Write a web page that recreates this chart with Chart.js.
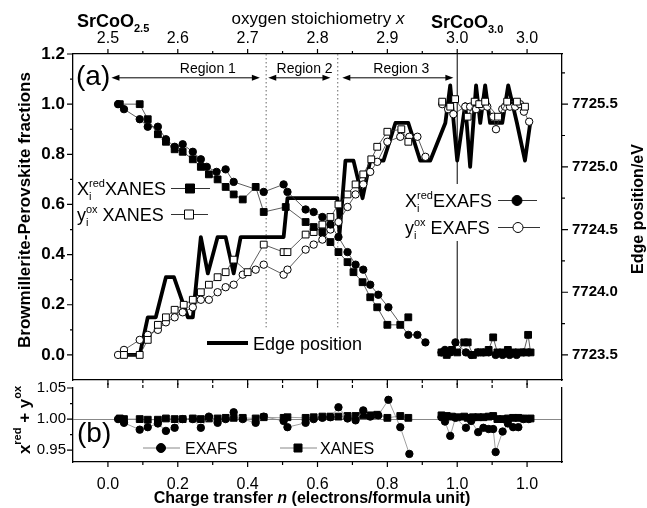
<!DOCTYPE html>
<html>
<head>
<meta charset="utf-8">
<script src="https://cdn.jsdelivr.net/npm/chart.js@4/dist/chart.umd.min.js"></script>
<style>
  body { margin: 0; background: #fff; }
  #wrap { position: relative; width: 647px; height: 508px; }
  canvas { position: absolute; left: 0; }
  #chartA { top: 0; }
  #chartB { top: 372px; }
</style>
</head>
<body>
<div id="wrap">
  <canvas id="chartB" width="647" height="136"></canvas>
  <canvas id="chartA" width="647" height="400"></canvas>
</div>
<script>
const FONT = "'Liberation Sans', Arial, sans-serif";

// ---- axes / tick labels ----
const nMajor = [0, 0.2, 0.4, 0.6, 0.8, 1.0, 1.2];
const nMinor = [0.1, 0.3, 0.5, 0.7, 0.9, 1.1];
const bottomLabels = ["0.0", "0.2", "0.4", "0.6", "0.8", "1.0", "1.0"];
const topLabels = ["2.5", "2.6", "2.7", "2.8", "2.9", "3.0", "3.0"];
const fracTicks = [0, 0.2, 0.4, 0.6, 0.8, 1.0, 1.2];
const fracMinor = [0.1, 0.3, 0.5, 0.7, 0.9, 1.1];
const edgeTicks = [7723.5, 7724.0, 7724.5, 7725.0, 7725.5];
const edgeMinor = [7723.75, 7724.25, 7724.75, 7725.25, 7725.75];
const sumTicks = [0.95, 1.0, 1.05];
const sumMinor = [0.975, 1.025];

// region markers (charge transfer n)
const regionDividers = [0.453, 0.658];
const regionArrows = [[0.01, 0.435], [0.459, 0.637], [0.671, 0.989]];
const regionNames = ["Region 1", "Region 2", "Region 3"];
const regionCenters = [0.286, 0.563, 0.84];

// ---- panel (a) data ----
const xredXanesN = [0.034, 0.091, 0.114, 0.143, 0.166, 0.191, 0.214, 0.243, 0.266, 0.289, 0.314, 0.337, 0.360, 0.386, 0.423, 0.446, 0.509, 0.566, 0.589, 0.614, 0.637, 0.660, 0.686, 0.703, 0.729, 0.751, 0.771, 0.800, 0.837, 0.860, 0.90, 0.955, 0.970, 0.985, 1.000, 1.020, 1.030, 1.045, 1.060, 1.075, 1.090, 1.103, 1.115, 1.130, 1.145, 1.160, 1.175, 1.190, 1.203, 1.210];
const xredXanes = [1.00, 1.00, 0.94, 0.88, 0.85, 0.82, 0.81, 0.78, 0.75, 0.72, 0.70, 0.67, 0.64, 0.62, 0.67, 0.57, 0.59, 0.53, 0.51, 0.49, 0.45, 0.41, 0.37, 0.33, 0.29, 0.23, 0.19, 0.12, 0.12, 0.15, null, 0.01, 0.00, 0.02, 0.01, 0.05, 0.05, 0.00, 0.01, 0.01, 0.02, 0.07, 0.01, 0.01, 0.02, 0.01, 0.01, 0.01, 0.08, 0.01];

const yoxXanesN = [0.046, 0.091, 0.114, 0.143, 0.166, 0.191, 0.217, 0.243, 0.266, 0.289, 0.314, 0.337, 0.360, 0.400, 0.446, 0.503, 0.514, 0.566, 0.589, 0.614, 0.637, 0.660, 0.686, 0.709, 0.731, 0.754, 0.771, 0.800, 0.840, 0.860, 0.90, 0.957, 0.980, 0.994, 1.030, 1.050, 1.063, 1.080, 1.117, 1.143, 1.171, 1.194];
const yoxXanes = [0.00, 0.00, 0.06, 0.12, 0.15, 0.18, 0.20, 0.22, 0.25, 0.28, 0.31, 0.33, 0.38, 0.33, 0.44, 0.41, 0.41, 0.48, 0.49, 0.52, 0.55, 0.60, 0.64, 0.68, 0.72, 0.78, 0.83, 0.89, 0.90, 0.85, null, 1.01, 0.99, 1.02, 0.95, 1.01, 1.00, 1.01, 0.95, 1.01, 1.01, 0.99];

const xredExafsN = [0.029, 0.046, 0.091, 0.114, 0.143, 0.166, 0.191, 0.214, 0.243, 0.266, 0.283, 0.311, 0.337, 0.360, 0.446, 0.503, 0.514, 0.566, 0.589, 0.614, 0.637, 0.660, 0.686, 0.709, 0.731, 0.751, 0.774, 0.803, 0.860, 0.886, 0.909, 0.93, 0.955, 0.965, 0.980, 0.995, 1.025, 1.040, 1.060, 1.075, 1.090, 1.110, 1.130, 1.150, 1.170, 1.190, 1.205];
const xredExafs = [1.00, 0.98, 0.94, 0.91, 0.91, 0.86, 0.83, 0.84, 0.81, 0.78, 0.75, 0.73, 0.74, 0.69, 0.65, 0.68, 0.65, 0.58, 0.57, 0.55, 0.52, 0.47, 0.41, 0.36, 0.34, 0.28, 0.24, 0.19, 0.08, 0.08, 0.05, null, 0.01, 0.02, 0.01, 0.05, 0.01, 0.00, 0.01, 0.01, 0.01, 0.00, 0.00, 0.00, 0.00, 0.01, 0.01];

const yoxExafsN = [0.029, 0.046, 0.091, 0.114, 0.143, 0.166, 0.191, 0.214, 0.243, 0.266, 0.289, 0.314, 0.337, 0.360, 0.386, 0.423, 0.446, 0.503, 0.514, 0.566, 0.589, 0.614, 0.637, 0.660, 0.686, 0.709, 0.731, 0.751, 0.771, 0.800, 0.837, 0.863, 0.886, 0.909, 0.93, 0.957, 0.974, 0.989, 1.023, 1.037, 1.054, 1.071, 1.086, 1.103, 1.111, 1.129, 1.137, 1.151, 1.166, 1.180, 1.191, 1.206];
const yoxExafs = [0.00, 0.02, 0.06, 0.08, 0.10, 0.13, 0.15, 0.17, 0.19, 0.22, 0.22, 0.25, 0.27, 0.28, 0.32, 0.34, 0.36, 0.32, 0.34, 0.42, 0.44, 0.46, 0.50, 0.53, 0.59, 0.64, 0.68, 0.73, 0.77, 0.85, 0.87, 0.87, 0.87, 0.79, null, 1.00, 0.98, 0.96, 0.99, 0.99, 0.98, 0.99, 0.99, 0.95, 0.90, 0.98, 0.99, 0.99, 0.99, 1.00, 0.97, 0.93];

const edgeN = [0.046, 0.091, 0.114, 0.137, 0.166, 0.189, 0.229, 0.243, 0.266, 0.286, 0.314, 0.337, 0.360, 0.380, 0.503, 0.514, 0.657, 0.663, 0.680, 0.703, 0.729, 0.751, 0.789, 0.823, 0.860, 0.894, 0.923, 0.966, 0.980, 1.000, 1.023, 1.037, 1.054, 1.066, 1.080, 1.094, 1.129, 1.146, 1.171, 1.194, 1.209];
const edgeEv = [7723.5, 7723.5, 7723.8, 7723.8, 7724.12, 7724.12, 7723.8, 7723.8, 7724.44, 7724.15, 7724.44, 7724.44, 7724.15, 7724.44, 7724.44, 7724.75, 7724.75, 7724.46, 7725.05, 7725.05, 7724.75, 7725.05, 7725.05, 7725.35, 7725.35, 7725.05, 7725.05, 7725.35, 7725.65, 7725.05, 7725.5, 7725.0, 7725.65, 7725.35, 7725.65, 7725.35, 7725.35, 7725.65, 7725.35, 7725.05, 7725.35];

// ---- panel (b) data ----
const sumExafsN = [0.029, 0.046, 0.091, 0.114, 0.143, 0.166, 0.191, 0.214, 0.243, 0.266, 0.289, 0.314, 0.337, 0.360, 0.386, 0.423, 0.446, 0.503, 0.514, 0.566, 0.589, 0.614, 0.637, 0.660, 0.686, 0.709, 0.731, 0.751, 0.774, 0.803, 0.837, 0.863, 0.91, 0.955, 0.965, 0.980, 0.995, 1.025, 1.040, 1.060, 1.075, 1.090, 1.103, 1.110, 1.130, 1.145, 1.160, 1.175, 1.190, 1.205];
const sumExafs = [1.000, 0.994, 0.983, 0.987, 0.993, 0.981, 0.986, 1.000, 1.000, 0.986, 1.004, 0.994, 1.000, 1.011, 1.000, 0.994, 1.004, 0.997, 0.987, 0.994, 1.000, 1.002, 1.003, 1.019, 1.001, 0.998, 1.014, 1.004, 1.006, 1.031, 0.987, 0.944, null, 1.003, 0.996, 0.973, 1.002, 0.986, 0.997, 0.979, 0.986, 0.984, 0.984, 0.947, 0.980, 0.993, 0.987, 0.987, 1.000, 1.000];

const sumXanesN = [0.034, 0.046, 0.091, 0.114, 0.143, 0.166, 0.191, 0.214, 0.243, 0.266, 0.289, 0.314, 0.337, 0.360, 0.386, 0.423, 0.446, 0.503, 0.514, 0.566, 0.589, 0.614, 0.637, 0.660, 0.686, 0.709, 0.731, 0.751, 0.771, 0.800, 0.837, 0.860, 0.91, 0.955, 0.970, 0.985, 1.000, 1.020, 1.030, 1.045, 1.060, 1.075, 1.090, 1.103, 1.115, 1.130, 1.145, 1.160, 1.175, 1.190, 1.210];
const sumXanes = [1.001, 1.000, 1.000, 0.999, 0.999, 1.001, 1.000, 1.000, 1.001, 1.000, 1.001, 1.001, 1.002, 1.002, 1.002, 1.001, 1.003, 1.002, 1.003, 1.002, 1.003, 1.004, 1.004, 1.004, 1.005, 1.005, 1.006, 1.006, 1.007, 1.002, 1.005, 1.002, null, 1.006, 1.005, 1.004, 1.003, 1.004, 1.002, 1.003, 1.003, 1.003, 1.004, 1.005, 1.000, 1.000, 1.001, 1.002, 1.002, 1.001, 1.001];

// ---- helpers ----
const pts = (xs, ys) => xs.map((x, i) => ({ x: x, y: ys[i] }));

function series(xs, ys, extra) {
  return Object.assign({
    data: pts(xs, ys),
    showLine: true,
    borderColor: "#333",
    borderWidth: 0.8,
    pointBorderColor: "#000",
    pointBackgroundColor: "#000",
    pointBorderWidth: 1,
    pointRadius: 3.7,
    tension: 0,
    fill: false,
  }, extra);
}

function rich(ctx, x, y, parts, size, bold, measure) {
  let cx = x;
  const w = bold ? "bold " : "";
  for (const p of parts) {
    if (typeof p === "string" || p.t !== undefined) {
      const s = typeof p === "string" ? p : p.t;
      ctx.font = (p.italic ? "italic " : "") + w + size + "px " + FONT;
      if (!measure) ctx.fillText(s, cx, y);
      cx += ctx.measureText(s).width;
    } else {
      ctx.font = w + Math.round(size * 0.62) + "px " + FONT;
      let adv = 0;
      if (p.sup) { if (!measure) ctx.fillText(p.sup, cx, y - size * 0.42); adv = ctx.measureText(p.sup).width; }
      if (p.sub) { if (!measure) ctx.fillText(p.sub, cx, y + size * 0.3); adv = Math.max(adv, ctx.measureText(p.sub).width); }
      cx += adv;
    }
  }
  return cx - x;
}

function rotatedRich(ctx, cx, cy, parts, size, bold) {
  ctx.save();
  ctx.translate(cx, cy);
  ctx.rotate(-Math.PI / 2);
  ctx.textBaseline = "middle";
  const w = rich(ctx, 0, 0, parts, size, bold, true);
  rich(ctx, -w / 2, 0, parts, size, bold);
  ctx.restore();
}

function marker(ctx, kind, x, y, filled, s) {
  ctx.beginPath();
  if (kind === "sq") ctx.rect(x - s, y - s, 2 * s, 2 * s);
  else ctx.arc(x, y, s, 0, Math.PI * 2);
  ctx.fillStyle = filled ? "#000" : "#fff";
  ctx.fill();
  ctx.strokeStyle = "#000";
  ctx.lineWidth = 1;
  ctx.stroke();
}

function legendLine(ctx, x1, x2, y, color, width) {
  ctx.beginPath();
  ctx.moveTo(x1, y);
  ctx.lineTo(x2, y);
  ctx.strokeStyle = color;
  ctx.lineWidth = width;
  ctx.stroke();
}

const tickMarks = {
  id: "tickMarks",
  afterDraw(chart, args, opts) {
    const { ctx, chartArea: a } = chart;
    ctx.save();
    ctx.strokeStyle = "#000";
    ctx.lineWidth = 1.2;
    ctx.beginPath();
    for (const t of opts.list) {
      const sc = chart.scales[t.scale];
      for (const v of t.values) {
        const p = sc.getPixelForValue(v);
        if (t.side === "top") { ctx.moveTo(p, a.top); ctx.lineTo(p, a.top - t.len); }
        if (t.side === "bottom") { ctx.moveTo(p, a.bottom); ctx.lineTo(p, a.bottom + t.len); }
        if (t.side === "left") { ctx.moveTo(a.left, p); ctx.lineTo(a.left - t.len, p); }
        if (t.side === "right") { ctx.moveTo(a.right, p); ctx.lineTo(a.right + t.len, p); }
      }
    }
    ctx.stroke();
    ctx.restore();
  },
};

// draws region guides below the data, labels on top
const panelA = {
  id: "panelA",
  beforeDatasetsDraw(chart) {
    const { ctx, chartArea: a } = chart;
    const x = chart.scales.x, y = chart.scales.y;
    ctx.save();
    ctx.strokeStyle = "#666";
    ctx.lineWidth = 1;
    ctx.setLineDash([1.5, 2.5]);
    for (const b of regionDividers) {
      const px = x.getPixelForValue(b);
      ctx.beginPath(); ctx.moveTo(px, a.top); ctx.lineTo(px, y.getPixelForValue(0.11)); ctx.stroke();
    }
    ctx.setLineDash([]);
    ctx.strokeStyle = "#000";
    const p1 = x.getPixelForValue(1.0);
    ctx.beginPath(); ctx.moveTo(p1, a.top); ctx.lineTo(p1, y.getPixelForValue(0.06)); ctx.stroke();

    // region arrows
    const ay = y.getPixelForValue(1.105);
    ctx.fillStyle = "#000";
    ctx.lineWidth = 1;
    regionArrows.forEach(([s, e]) => {
      const xs = x.getPixelForValue(s), xe = x.getPixelForValue(e);
      ctx.beginPath(); ctx.moveTo(xs + 4, ay); ctx.lineTo(xe - 4, ay); ctx.stroke();
      ctx.beginPath(); ctx.moveTo(xs, ay); ctx.lineTo(xs + 8, ay - 3); ctx.lineTo(xs + 8, ay + 3); ctx.closePath(); ctx.fill();
      ctx.beginPath(); ctx.moveTo(xe, ay); ctx.lineTo(xe - 8, ay - 3); ctx.lineTo(xe - 8, ay + 3); ctx.closePath(); ctx.fill();
    });
    ctx.font = "14px " + FONT;
    ctx.textAlign = "center";
    ctx.textBaseline = "alphabetic";
    regionNames.forEach((t, i) => ctx.fillText(t, x.getPixelForValue(regionCenters[i]), 73));
    ctx.restore();
  },
  afterDatasetsDraw(chart) {
    const { ctx } = chart;
    ctx.save();
    ctx.fillStyle = "#000";
    ctx.textAlign = "left";
    ctx.textBaseline = "alphabetic";

    // "(a)"
    ctx.font = "28px " + FONT;
    ctx.fillText("(a)", 76, 85);

    // XANES legend
    rich(ctx, 77, 195, ["X", { sup: "red", sub: "i" }, "XANES"], 18, false);
    legendLine(ctx, 171, 210, 188.5, "#333", 1);
    marker(ctx, "sq", 190, 188.5, true, 4.5);
    ctx.fillStyle = "#000";
    rich(ctx, 77, 221, ["y", { sup: "ox", sub: "i" }, " XANES"], 18, false);
    legendLine(ctx, 171, 208, 214.5, "#333", 1);
    marker(ctx, "sq", 189, 214.5, false, 4.5);

    // EXAFS legend with white backing over the n = 1 line
    ctx.fillStyle = "#fff";
    ctx.fillRect(402, 184, 142, 57);
    ctx.fillStyle = "#000";
    rich(ctx, 405, 207, ["X", { sup: "red", sub: "i" }, "EXAFS"], 18, false);
    legendLine(ctx, 498, 537, 200.5, "#333", 1);
    marker(ctx, "ci", 517, 200.5, true, 5);
    ctx.fillStyle = "#000";
    rich(ctx, 405, 234, ["y", { sup: "ox", sub: "i" }, " EXAFS"], 18, false);
    legendLine(ctx, 498, 540, 227.5, "#333", 1);
    marker(ctx, "ci", 518, 227.5, false, 5);

    // edge position legend
    legendLine(ctx, 207, 248, 343, "#000", 4);
    ctx.fillStyle = "#000";
    ctx.font = "18px " + FONT;
    ctx.fillText("Edge position", 253, 350);

    // top annotations
    rich(ctx, 77, 27, ["SrCoO", { sub: "2.5" }], 18, true);
    rich(ctx, 431, 28, ["SrCoO", { sub: "3.0" }], 18, true);
    const tw = rich(ctx, 0, 0, ["oxygen stoichiometry ", { t: "x", italic: true }], 17, false, true);
    rich(ctx, 318 - tw / 2, 24, ["oxygen stoichiometry ", { t: "x", italic: true }], 17, false);

    // axis titles
    rotatedRich(ctx, 25, 210, ["Browmillerite-Perovskite fractions"], 17, true);
    rotatedRich(ctx, 639, 209, ["Edge position/eV"], 16, true);
    ctx.restore();
  },
};

const OFF_B = 372;
const panelB = {
  id: "panelB",
  afterDatasetsDraw(chart) {
    const { ctx } = chart;
    ctx.save();
    ctx.fillStyle = "#000";
    ctx.textAlign = "left";
    ctx.textBaseline = "alphabetic";
    ctx.font = "28px " + FONT;
    ctx.fillText("(b)", 77, 442 - OFF_B);

    legendLine(ctx, 143, 180, 448 - OFF_B, "#888", 1);
    marker(ctx, "ci", 161, 448 - OFF_B, true, 4.5);
    ctx.fillStyle = "#000";
    ctx.font = "16px " + FONT;
    ctx.fillText("EXAFS", 185, 454 - OFF_B);
    legendLine(ctx, 280, 317, 448 - OFF_B, "#888", 1);
    marker(ctx, "sq", 298, 448 - OFF_B, true, 4);
    ctx.fillStyle = "#000";
    ctx.font = "16px " + FONT;
    ctx.fillText("XANES", 320, 454 - OFF_B);

    const parts = ["Charge transfer ", { t: "n", italic: true }, " (electrons/formula unit)"];
    const w = rich(ctx, 0, 0, parts, 16, true, true);
    rich(ctx, 312 - w / 2, 503 - OFF_B, parts, 16, true);

    rotatedRich(ctx, 25, 420 - OFF_B, ["x", { sup: "red" }, " + y", { sup: "ox" }], 17, true);
    ctx.restore();
  },
};

const border = { display: true, color: "#000", width: 1.3 };
const noGrid = { drawOnChartArea: false, drawTicks: false };
const setTicks = (vals) => (s) => { s.ticks = vals.map((v) => ({ value: v })); };

// ---- chart (a) ----
new Chart(document.getElementById("chartA"), {
  type: "line",
  data: {
    datasets: [
      series(xredXanesN, xredXanes, { pointStyle: "rect", pointRadius: 4.8, order: 1 }),
      series(yoxXanesN, yoxXanes, { pointStyle: "rect", pointRadius: 4.8, pointBackgroundColor: "#fff", order: 2 }),
      series(xredExafsN, xredExafs, { pointStyle: "circle", order: 3 }),
      series(yoxExafsN, yoxExafs, { pointStyle: "circle", pointBackgroundColor: "#fff", order: 4 }),
      {
        data: pts(edgeN, edgeEv),
        yAxisID: "y2",
        borderColor: "#000",
        borderWidth: 3.8,
        borderJoinStyle: "round",
        pointRadius: 0,
        tension: 0,
        fill: false,
        order: 9,
      },
    ],
  },
  options: {
    responsive: false,
    animation: false,
    events: [],
    layout: { padding: 0 },
    plugins: {
      legend: { display: false },
      tooltip: { enabled: false },
      tickMarks: {
        list: [
          { scale: "xTop", side: "top", values: nMajor, len: 5 },
          { scale: "xTop", side: "top", values: nMinor, len: 3 },
          { scale: "x", side: "bottom", values: nMajor, len: 5 },
          { scale: "x", side: "bottom", values: nMinor, len: 3 },
          { scale: "y", side: "left", values: fracTicks, len: 6 },
          { scale: "y", side: "left", values: fracMinor, len: 3 },
          { scale: "y2", side: "right", values: edgeTicks, len: 6 },
          { scale: "y2", side: "right", values: edgeMinor, len: 3 },
        ],
      },
    },
    scales: {
      x: {
        type: "linear", position: "bottom", min: -0.1, max: 1.3,
        afterBuildTicks: setTicks(nMajor),
        afterFit: (s) => { s.height = 20; },
        ticks: { display: false },
        grid: noGrid, border: border,
      },
      xTop: {
        type: "linear", position: "top", min: -0.1, max: 1.3,
        afterBuildTicks: setTicks(nMajor),
        afterFit: (s) => { s.height = 54; },
        ticks: { callback: (v, i) => topLabels[i], font: { size: 16 }, color: "#000", padding: 6, maxRotation: 0, autoSkip: false },
        grid: noGrid, border: border,
      },
      y: {
        type: "linear", position: "left", min: -0.1, max: 1.2,
        afterBuildTicks: setTicks(fracTicks),
        afterFit: (s) => { s.width = 73; },
        ticks: { callback: (v) => v.toFixed(1), font: { size: 17, weight: "bold" }, color: "#000", padding: 8 },
        grid: noGrid, border: border,
      },
      y2: {
        type: "linear", position: "right", min: 7723.3, max: 7725.9,
        afterBuildTicks: setTicks(edgeTicks),
        afterFit: (s) => { s.width = 85; },
        ticks: { callback: (v) => v.toFixed(1), font: { size: 15, weight: "bold" }, color: "#000", padding: 10 },
        grid: noGrid, border: border,
      },
    },
  },
  plugins: [tickMarks, panelA],
});

// ---- chart (b) ----
new Chart(document.getElementById("chartB"), {
  type: "line",
  data: {
    datasets: [
      series(sumExafsN, sumExafs, { pointStyle: "circle", borderColor: "#888", order: 1 }),
      series(sumXanesN, sumXanes, { pointStyle: "rect", pointRadius: 4.8, borderColor: "#888", order: 2 }),
    ],
  },
  options: {
    responsive: false,
    animation: false,
    events: [],
    layout: { padding: { top: 8 } },
    plugins: {
      legend: { display: false },
      tooltip: { enabled: false },
      tickMarks: {
        list: [
          { scale: "x", side: "top", values: nMajor, len: 5 },
          { scale: "x", side: "top", values: nMinor, len: 3 },
          { scale: "x", side: "bottom", values: nMajor, len: 5 },
          { scale: "x", side: "bottom", values: nMinor, len: 3 },
          { scale: "y", side: "left", values: sumTicks, len: 6 },
          { scale: "y", side: "left", values: sumMinor, len: 3 },
        ],
      },
    },
    scales: {
      x: {
        type: "linear", position: "bottom", min: -0.1, max: 1.3,
        afterBuildTicks: setTicks(nMajor),
        afterFit: (s) => { s.height = 46; },
        ticks: { callback: (v, i) => bottomLabels[i], font: { size: 16 }, color: "#000", padding: 13, maxRotation: 0, autoSkip: false },
        grid: noGrid, border: border,
      },
      y: {
        type: "linear", position: "left", min: 0.931, max: 1.05,
        afterBuildTicks: setTicks(sumTicks),
        afterFit: (s) => { s.width = 73; },
        ticks: { callback: (v) => v.toFixed(2), font: { size: 15 }, color: "#000", padding: 7 },
        grid: {
          drawTicks: false,
          lineWidth: 1,
          color: (c) => (c.tick && Math.abs(c.tick.value - 1) < 1e-9 ? "#888" : "rgba(0,0,0,0)"),
        },
        border: border,
      },
      y2: {
        type: "linear", position: "right", min: 0, max: 1,
        afterFit: (s) => { s.width = 85; },
        ticks: { display: false },
        grid: noGrid, border: border,
      },
    },
  },
  plugins: [tickMarks, panelB],
});
</script>
</body>
</html>
